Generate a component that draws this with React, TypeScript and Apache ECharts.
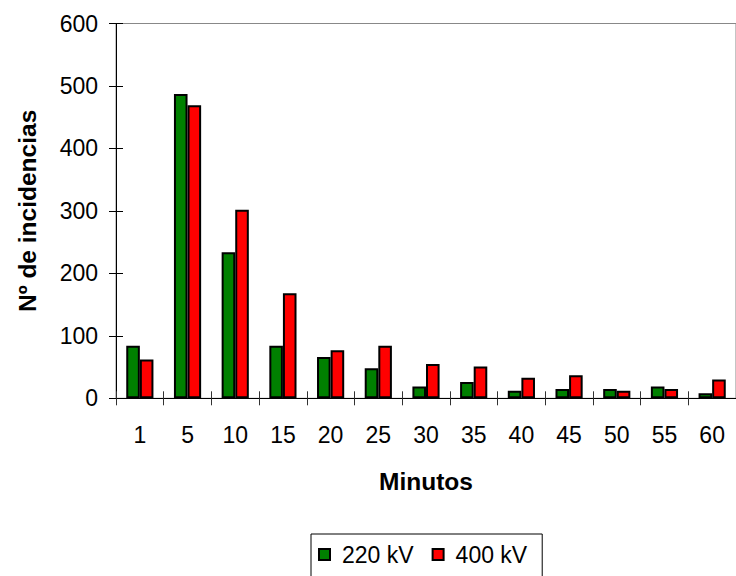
import React, { useEffect, useRef } from 'react';
import * as echarts from 'echarts';

const categories = ['1', '5', '10', '15', '20', '25', '30', '35', '40', '45', '50', '55', '60'];
const kv220 = [84, 487, 234, 84, 66, 48, 19, 26, 12, 15, 15, 19, 8];
const kv400 = [62, 469, 302, 168, 77, 84, 55, 51, 33, 37, 12, 15, 30];
const seriesNames = ['220 kV', '400 kV'];
const yMin = 0;
const yMax = 600;
const yStep = 100;

const FONT = '"Liberation Sans", Arial, sans-serif';

export default function App() {
  const ref = useRef<HTMLDivElement>(null);
  useEffect(() => {
    if (!ref.current) return;
    const chart = echarts.init(ref.current, null, { renderer: 'svg' });
    chart.setOption({
      animation: false,
      backgroundColor: '#fff',
      textStyle: { fontFamily: FONT },
      grid: {
        left: 116,
        top: 23.5,
        width: 628,
        height: 374.8,
        show: true,
        borderColor: '#888',
        borderWidth: 1,
        containLabel: false,
      },
      legend: {
        data: seriesNames,
        left: 311,
        top: 534,
        orient: 'horizontal',
        icon: 'rect',
        itemWidth: 11,
        itemHeight: 11,
        itemGap: 18,
        padding: [9, 15, 20, 7],
        borderColor: '#000',
        borderWidth: 1,
        textStyle: { fontSize: 23, fontFamily: FONT, color: '#000', padding: [0, 0, 0, 7] },
      },
      xAxis: [
        {
          type: 'category',
          data: categories,
          position: 'bottom',
          name: 'Minutos',
          nameLocation: 'middle',
          nameGap: 71,
          nameTextStyle: { fontSize: 24.5, fontWeight: 'bold', fontFamily: FONT, color: '#000' },
          axisLine: { lineStyle: { color: '#000', width: 1 } },
          axisTick: { show: true, alignWithLabel: false, length: 7, lineStyle: { color: '#333' } },
          axisLabel: { fontSize: 23, fontFamily: FONT, color: '#000', margin: 25 },
          splitLine: { show: false },
        },
        {
          type: 'category',
          data: categories,
          position: 'bottom',
          axisLine: { show: false },
          axisTick: { show: true, inside: true, length: 7, lineStyle: { color: '#333' } },
          axisLabel: { show: false },
          splitLine: { show: false },
        },
      ],
      yAxis: [
        {
          type: 'value',
          min: yMin,
          max: yMax,
          interval: yStep,
          position: 'left',
          name: 'Nº de incidencias',
          nameLocation: 'middle',
          nameGap: 76,
          nameTextStyle: { fontSize: 24.5, fontWeight: 'bold', fontFamily: FONT, color: '#000' },
          axisLine: { show: true, lineStyle: { color: '#000', width: 1 } },
          axisTick: { show: true, length: 7, lineStyle: { color: '#000' } },
          axisLabel: { fontSize: 23, fontFamily: FONT, color: '#000', margin: 18 },
          splitLine: { show: false },
        },
        {
          type: 'value',
          min: yMin,
          max: yMax,
          interval: yStep,
          position: 'left',
          axisLine: { show: false },
          axisTick: { show: true, inside: true, length: 7, lineStyle: { color: '#000' } },
          axisLabel: { show: false },
          splitLine: { show: false },
        },
      ],
      series: [
        {
          name: seriesNames[0],
          type: 'bar',
          data: kv220,
          xAxisIndex: 0,
          yAxisIndex: 0,
          barGap: '0%',
          barCategoryGap: '43%',
          itemStyle: { color: '#008000', borderColor: '#000', borderWidth: 2 },
        },
        {
          name: seriesNames[1],
          type: 'bar',
          data: kv400,
          xAxisIndex: 0,
          yAxisIndex: 0,
          barGap: '0%',
          barCategoryGap: '43%',
          itemStyle: { color: '#ff0000', borderColor: '#000', borderWidth: 2 },
        },
      ],
    });
    return () => chart.dispose();
  }, []);
  return (
    <div
      ref={ref}
      style={{ position: 'fixed', left: 0, top: 0, width: 736, height: 576, background: '#fff' }}
    />
  );
}
